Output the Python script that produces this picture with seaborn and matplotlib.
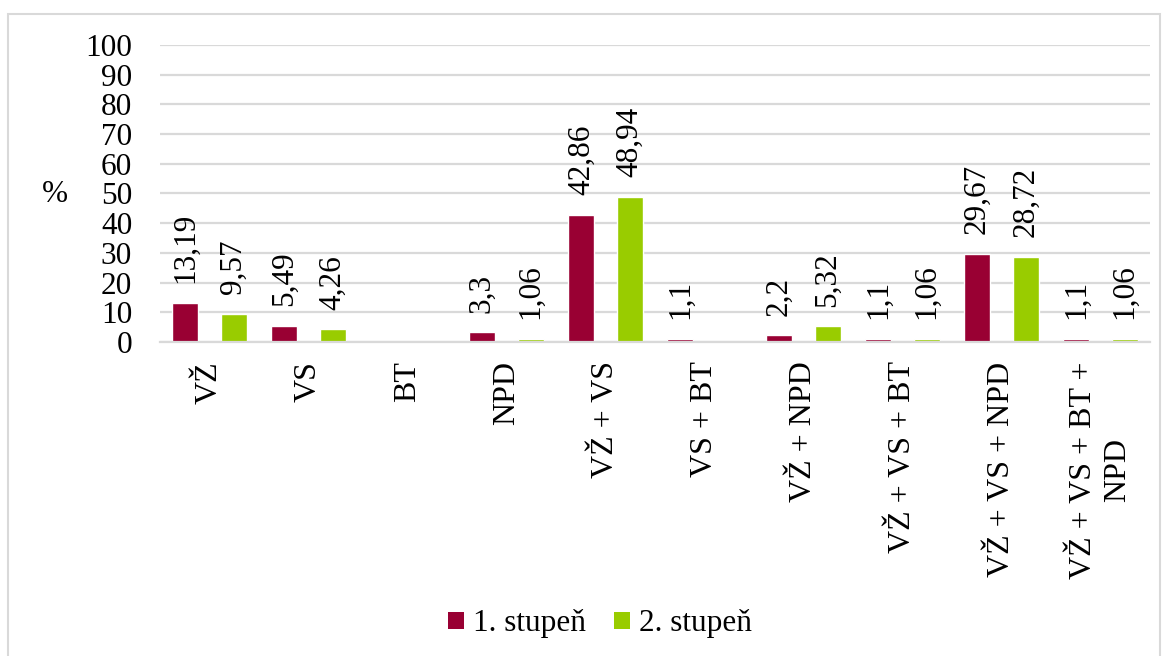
import numpy as np
import pandas as pd
import matplotlib
matplotlib.use("Agg")
import matplotlib.pyplot as plt
from matplotlib.patches import Patch, Rectangle
import seaborn as sns

categories = ["VŽ", "VS", "BT", "NPD", "VŽ + VS", "VS + BT", "VŽ + NPD",
              "VŽ + VS + BT", "VŽ + VS + NPD", "VŽ + VS + BT +\nNPD"]
series_names = ["1. stupeň", "2. stupeň"]
stupen1 = [13.19, 5.49, np.nan, 3.3, 42.86, 1.1, 2.2, 1.1, 29.67, 1.1]
stupen2 = [9.57, 4.26, np.nan, 1.06, 48.94, np.nan, 5.32, 1.06, 28.72, 1.06]
y_ticks = [0, 10, 20, 30, 40, 50, 60, 70, 80, 90, 100]
colors = ["#990033", "#99CC00"]

df = pd.DataFrame({
    "kategorie": categories * 2,
    "stupen": [series_names[0]] * len(categories) + [series_names[1]] * len(categories),
    "hodnota": stupen1 + stupen2,
})

sns.set_theme(style="white")
plt.rcParams["font.family"] = ["Liberation Serif", "DejaVu Serif"]
plt.rcParams["text.color"] = "black"
plt.rcParams["xtick.color"] = "black"
plt.rcParams["ytick.color"] = "black"
FS = 22.5

fig = plt.figure(figsize=(11.65, 6.56), dpi=100)
ax = fig.add_axes([0.1373, 0.4787, 0.8498, 0.4527])

sns.barplot(data=df, x="kategorie", y="hodnota", hue="stupen",
            order=categories, hue_order=series_names, palette=colors,
            width=0.98, gap=0.47, errorbar=None, ax=ax, legend=False,
            saturation=1)

for cont in ax.containers:
    labels = [f"{v:g}".replace(".", ",") for v in cont.datavalues]
    ax.bar_label(cont, labels=labels, rotation=90, padding=14,
                 fontsize=FS, color="black")

ax.set_ylim(0, 100)
ax.set_xlim(-0.5, len(categories) - 0.5)
ax.set_yticks(y_ticks)
ax.set_yticklabels([str(t) for t in y_ticks], fontsize=FS, color="black")
ax.tick_params(axis="y", length=0, pad=20)
ax.tick_params(axis="x", length=0, pad=14)
ax.set_xticks(range(len(categories)))
ax.set_xticklabels(categories, rotation=90, fontsize=23, ha="center", va="top",
                   multialignment="center", linespacing=1.25, color="black")
ax.set_xlabel("")
ax.set_ylabel("")
ax.yaxis.grid(True, color="#D9D9D9", linewidth=1.6)
ax.set_axisbelow(True)
for side in ["top", "right", "left"]:
    ax.spines[side].set_visible(False)
ax.spines["bottom"].set_color("#D9D9D9")
ax.spines["bottom"].set_linewidth(1.6)

fig.text(55 / 1165, 1 - 195 / 656, "%", fontsize=FS, ha="center", va="center",
         color="black")

handles = [Patch(facecolor=c, edgecolor="none") for c in colors]
fig.legend(handles, series_names, loc="center", bbox_to_anchor=(0.515, 1 - 624 / 656),
           ncol=2, frameon=False, fontsize=FS, handlelength=0.5, handleheight=0.5,
           handletextpad=0.3, columnspacing=0.9, labelcolor="black")

fig.patches.append(Rectangle((8 / 1165, -0.02), 1152 / 1165, 1.02 - 14 / 656,
                             transform=fig.transFigure, fill=False,
                             edgecolor="#D9D9D9", linewidth=1.5))

fig.savefig("out.png", dpi=100)
